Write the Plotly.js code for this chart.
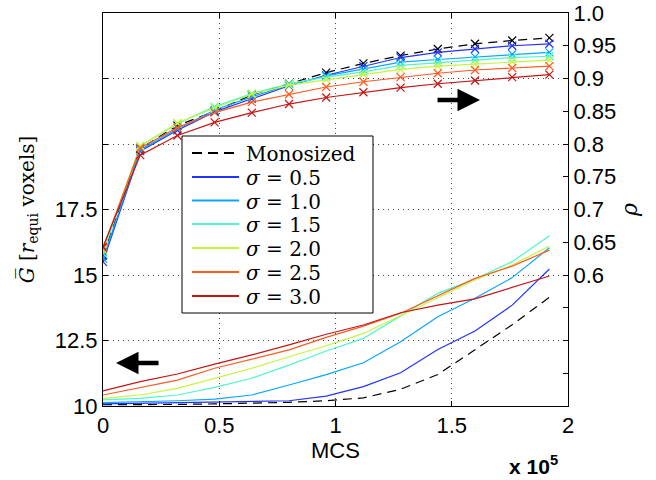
<!DOCTYPE html>
<html>
<head>
<meta charset="utf-8">
<script src="https://cdn.plot.ly/plotly-3.0.1.min.js"></script>
<style>html,body{margin:0;padding:0;background:#fff;}#chart{width:656px;height:480px;}</style>
</head>
<body>
<div id="chart"></div>
<script>
// MCS sample positions
const mcs = [0, 16000, 32000, 48000, 64000, 80000, 96000, 112000, 128000, 144000, 160000, 176000, 192000];

// series names
const seriesNames = ['Monosized', 'σ = 0.5', 'σ = 1.0', 'σ = 1.5', 'σ = 2.0', 'σ = 2.5', 'σ = 3.0'];

// mean grain size G (left axis)
const gMono = [10.05, 10.05, 10.06, 10.08, 10.10, 10.14, 10.20, 10.31, 10.64, 11.20, 12.15, 13.10, 14.15];
const gS05  = [10.08, 10.10, 10.12, 10.16, 10.16, 10.20, 10.38, 10.74, 11.27, 12.16, 12.86, 13.85, 15.23];
const gS10  = [10.13, 10.16, 10.20, 10.26, 10.42, 10.80, 11.20, 11.65, 12.45, 13.41, 14.11, 14.90, 16.04];
const gS15  = [10.23, 10.29, 10.42, 10.71, 11.06, 11.56, 12.10, 12.58, 13.44, 14.30, 14.85, 15.51, 16.50];
const gS20  = [10.29, 10.42, 10.67, 11.06, 11.44, 11.88, 12.30, 12.77, 13.44, 14.11, 14.81, 15.38, 16.11];
const gS25  = [10.42, 10.71, 10.99, 11.44, 11.78, 12.14, 12.62, 13.05, 13.54, 14.20, 14.87, 15.34, 15.95];
const gS30  = [10.58, 10.93, 11.22, 11.60, 11.95, 12.33, 12.74, 13.09, 13.56, 13.85, 14.09, 14.52, 14.96];

// density rho (right axis)
const rMono = [0.630, 0.793, 0.828, 0.850, 0.875, 0.892, 0.909, 0.923, 0.935, 0.945, 0.953, 0.958, 0.962];
const rS05  = [0.620, 0.789, 0.821, 0.849, 0.869, 0.889, 0.905, 0.919, 0.932, 0.940, 0.945, 0.950, 0.953];
const rS10  = [0.625, 0.791, 0.823, 0.852, 0.872, 0.890, 0.904, 0.914, 0.925, 0.929, 0.933, 0.937, 0.940];
const rS15  = [0.633, 0.797, 0.831, 0.857, 0.877, 0.892, 0.902, 0.910, 0.920, 0.924, 0.928, 0.932, 0.934];
const rS20  = [0.638, 0.797, 0.832, 0.855, 0.876, 0.890, 0.898, 0.906, 0.914, 0.919, 0.922, 0.926, 0.928];
const rS25  = [0.641, 0.794, 0.825, 0.848, 0.864, 0.876, 0.887, 0.895, 0.902, 0.908, 0.913, 0.916, 0.919];
const rS30  = [0.643, 0.783, 0.813, 0.833, 0.848, 0.861, 0.871, 0.879, 0.886, 0.892, 0.897, 0.902, 0.906];

// tick labels
const xTickVals = [0, 50000, 100000, 150000, 200000];
const xTickText = ['0', '0.5', '1', '1.5', '2'];
const yTickVals = [10, 12.5, 15, 17.5, 20, 22.5, 25];
const yTickText = ['10', '12.5', '15', '17.5', ' ', ' ', ' '];
const y2TickVals = [0.4, 0.45, 0.5, 0.55, 0.6, 0.65, 0.7, 0.75, 0.8, 0.85, 0.9, 0.95, 1.0];
const y2TickText = [' ', ' ', ' ', ' ', '0.6', '0.65', '0.7', '0.75', '0.8', '0.85', '0.9', '0.95', '1.0'];

const gSeries = [gMono, gS05, gS10, gS15, gS20, gS25, gS30];
const rSeries = [rMono, rS05, rS10, rS15, rS20, rS25, rS30];
const colors = ['#000000', '#2233ff', '#0aa6ff', '#4cf7cc', '#c4f53a', '#ff5a22', '#c41414'];
const dashes = ['9px,6px', 'solid', 'solid', 'solid', 'solid', 'solid', 'solid'];

const labelHtml = seriesNames.map((s, i) => i === 0 ? s : '<i>σ</i> = ' + s.slice(4));

const traces = [];
for (let i = 0; i < seriesNames.length; i++) {
  traces.push({
    x: mcs, y: gSeries[i], yaxis: 'y', type: 'scatter', mode: 'lines',
    name: seriesNames[i],
    line: {color: colors[i], width: 1.2, dash: dashes[i]},
    showlegend: false
  });
}
for (let i = 0; i < seriesNames.length; i++) {
  traces.push({
    x: mcs, y: rSeries[i], yaxis: 'y2', type: 'scatter', mode: 'lines+markers',
    name: seriesNames[i],
    line: {color: colors[i], width: 1.2, dash: dashes[i]},
    marker: {symbol: 'x-thin', size: 8, line: {color: colors[i], width: 1.2}, color: colors[i]},
    showlegend: false
  });
}

// plot-area geometry (pixels) for placing the hand-built legend box
const M = {l: 103, r: 88, t: 13, b: 74};
const W = 656, H = 480;
const pw = W - M.l - M.r, ph = H - M.t - M.b;
const px = v => (v - M.l) / pw;
const py = v => (H - M.b - v) / ph;

const shapes = [
  {type: 'rect', xref: 'paper', yref: 'paper', layer: 'above',
   x0: px(182), x1: px(373), y0: py(313), y1: py(136),
   fillcolor: '#fff', line: {color: '#000', width: 1}}
];
const annotations = [];
const rowY = [153, 177, 200.5, 224, 248, 272, 296];
for (let i = 0; i < seriesNames.length; i++) {
  shapes.push({type: 'line', xref: 'paper', yref: 'paper', layer: 'above',
    x0: px(192), x1: px(239), y0: py(rowY[i]), y1: py(rowY[i]),
    line: {color: colors[i], width: 2, dash: i === 0 ? '10px,6px' : 'solid'}});
  annotations.push({xref: 'paper', yref: 'paper', x: px(244), y: py(rowY[i] + 1),
    xanchor: 'left', yanchor: 'middle', showarrow: false, text: labelHtml[i],
    font: {family: 'DejaVu Serif, serif', size: 20, color: '#000'}});
}
annotations.push(
  {xref: 'paper', yref: 'paper', x: px(480), y: py(100), ax: -44, ay: 0, axref: 'pixel', ayref: 'pixel',
   text: '', showarrow: true, arrowhead: 2, arrowsize: 1, arrowwidth: 4.5, arrowcolor: '#000'},
  {xref: 'paper', yref: 'paper', x: px(116), y: py(363), ax: 44, ay: 0, axref: 'pixel', ayref: 'pixel',
   text: '', showarrow: true, arrowhead: 2, arrowsize: 1, arrowwidth: 4.5, arrowcolor: '#000'},
  {xref: 'paper', yref: 'paper', x: px(560), y: py(465), xanchor: 'right', yanchor: 'middle',
   text: '<b>x 10<sup>5</sup></b>', showarrow: false,
   font: {family: 'Liberation Sans, Arial, sans-serif', size: 21, color: '#000'}}
);

const tickFont = {family: 'Liberation Sans, Arial, sans-serif', size: 22, color: '#000'};

const layout = {
  width: W, height: H,
  margin: {l: M.l, r: M.r, t: M.t, b: M.b, pad: 0},
  paper_bgcolor: '#fff', plot_bgcolor: '#fff',
  showlegend: false,
  xaxis: {
    range: [0, 200000], tickvals: xTickVals, ticktext: xTickText,
    ticks: 'inside', ticklen: 5, tickcolor: '#000', tickwidth: 1,
    showline: true, linecolor: '#000', linewidth: 1, mirror: 'ticks',
    showgrid: true, gridcolor: '#444', griddash: '1px,4px', gridwidth: 1,
    zeroline: false, tickfont: tickFont,
    title: {text: 'MCS', font: tickFont, standoff: 3},
    automargin: false
  },
  yaxis: {
    range: [10, 25], tickvals: yTickVals, ticktext: yTickText,
    ticks: 'inside', ticklen: 5, tickcolor: '#000', tickwidth: 1,
    showline: true, linecolor: '#000', linewidth: 1,
    showgrid: true, gridcolor: '#444', griddash: '1px,4px', gridwidth: 1,
    zeroline: false, tickfont: tickFont,
    title: {text: '<i>G̅</i> [<i>r</i><sub>equi</sub> voxels]', font: {family: 'DejaVu Serif, serif', size: 20, color: '#000'}, standoff: 14},
    automargin: false
  },
  yaxis2: {
    range: [0.4, 1.0], tickvals: y2TickVals, ticktext: y2TickText,
    overlaying: 'y', side: 'right',
    ticks: 'inside', ticklen: 5, tickcolor: '#000', tickwidth: 1,
    showline: true, linecolor: '#000', linewidth: 1,
    showgrid: false, zeroline: false, tickfont: tickFont,
    title: {text: '<i>ρ</i>', font: {family: 'DejaVu Serif, serif', size: 22, color: '#000'}, standoff: 6},
    automargin: false
  },
  shapes: shapes,
  annotations: annotations
};

Plotly.newPlot('chart', traces, layout, {staticPlot: true, displayModeBar: false});
</script>
</body>
</html>
